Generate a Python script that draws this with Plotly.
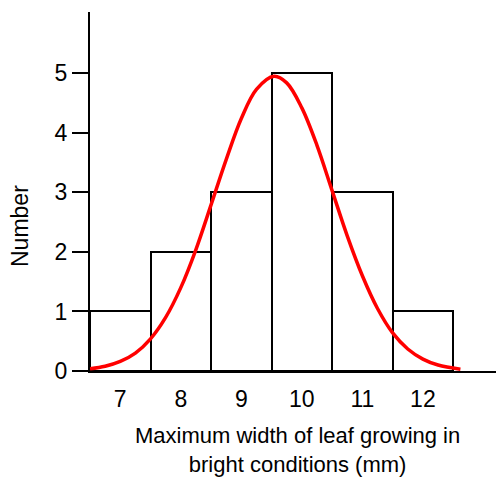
import plotly.graph_objects as go

# Histogram data
width_mm = [7, 8, 9, 10, 11, 12]
counts = [1, 2, 3, 5, 3, 1]

# Fitted curve
curve_x = [6.5, 6.75, 7.0, 7.25, 7.5, 7.75, 8.0, 8.25, 8.5, 8.75, 9.0, 9.25, 9.54,
           9.75, 10.0, 10.25, 10.5, 10.75, 11.0, 11.25, 11.5, 11.75, 12.0, 12.25, 12.62]
curve_y = [0.036, 0.079, 0.16, 0.30, 0.54, 0.90, 1.40, 2.04, 2.79, 3.55, 4.24, 4.73, 4.95,
           4.84, 4.42, 3.79, 3.03, 2.27, 1.60, 1.05, 0.64, 0.37, 0.20, 0.10, 0.03]

y_ticks = [0, 1, 2, 3, 4, 5]

FONT = "Liberation Sans, Arial, sans-serif"

fig = go.Figure()
fig.add_trace(go.Bar(
    x=width_mm, y=counts, width=1,
    marker=dict(color="white", line=dict(color="black", width=2)),
    showlegend=False, hoverinfo="skip",
))
fig.add_trace(go.Scatter(
    x=curve_x, y=curve_y, mode="lines",
    line=dict(color="#ff0000", width=3.5, shape="spline"),
    showlegend=False, hoverinfo="skip",
))

fig.update_layout(
    width=496, height=469,
    margin=dict(l=82, r=0, t=4, b=106),
    plot_bgcolor="white", paper_bgcolor="white",
    bargap=0,
    font=dict(family=FONT, color="black"),
    xaxis=dict(
        range=[6.5, 13.34], tickvals=width_mm, ticktext=[str(v) for v in width_mm],
        showgrid=False, zeroline=False, showline=True, linecolor="black", linewidth=2,
        ticks="", ticklabelstandoff=6, tickfont=dict(size=23, family=FONT),
    ),
    yaxis=dict(
        range=[0, 6.03], tickvals=y_ticks,
        showgrid=False, zeroline=False, showline=True, linecolor="black", linewidth=2,
        ticks="outside", ticklen=16, tickwidth=2, tickcolor="black",
        tickfont=dict(size=23, family=FONT),
    ),
    annotations=[
        dict(text="Number", textangle=-90, xref="paper", yref="paper",
             x=-0.169, y=0.404, showarrow=False, font=dict(size=23, family=FONT),
             xanchor="center", yanchor="middle"),
        dict(text="Maximum width of leaf growing in<br>bright conditions (mm)",
             xref="paper", yref="paper", x=0.5, y=-0.221, showarrow=False,
             font=dict(size=22, family=FONT), xanchor="center", yanchor="middle"),
    ],
)

fig.write_html("out.html")
